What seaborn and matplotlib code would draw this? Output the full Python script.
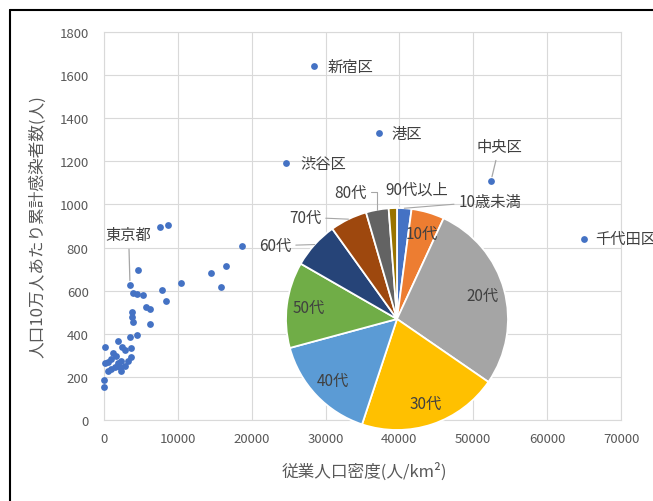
import matplotlib
matplotlib.use("Agg")
import matplotlib.pyplot as plt
from matplotlib.lines import Line2D
import numpy as np
import pandas as pd
import seaborn as sns

# 区市町村別の従業人口密度(人/km²)と人口10万人あたり累計感染者数(人)
density = [28430, 37230, 24640, 52400, 64950, 3520,
           18730, 16470, 14530, 15800, 10400, 8710, 7580, 4650, 7810,
           3970, 4510, 5320, 8460, 5690, 6230, 3750, 3750, 3880, 6230,
           4510, 3480, 1900, 100, 2440, 2800, 3700, 1220, 1670, 990, 540,
           100, 3700, 3250, 2340, 1900, 2800, 2130, 1450, 990, 540, 2340,
           0, 0]
cases = [1642, 1331, 1192, 1110, 840, 628,
         806, 714, 682, 618, 637, 906, 894, 695, 605,
         590, 584, 582, 553, 523, 516, 500, 478, 453, 445,
         394, 386, 368, 340, 340, 325, 334, 309, 298, 283, 268,
         263, 291, 275, 272, 263, 252, 244, 244, 237, 229, 229,
         186, 152]
labeled_names = ["新宿区", "港区", "渋谷区", "中央区", "千代田区", "東京都"]
names = labeled_names + [""] * (len(density) - len(labeled_names))

# 年代別の感染者構成比(%)
age_groups = ["10歳未満", "10代", "20代", "30代", "40代",
              "50代", "60代", "70代", "80代", "90代以上"]
age_share = [2.1, 4.8, 27.7, 20.5, 15.7, 12.5, 6.8, 5.4, 3.3, 1.2]

x_ticks = [0, 10000, 20000, 30000, 40000, 50000, 60000, 70000]
y_ticks = [0, 200, 400, 600, 800, 1000, 1200, 1400, 1600, 1800]

sns.set_style("white")
plt.rcParams["font.family"] = ["Noto Sans CJK JP", "DejaVu Sans"]

W, H = 653, 502
fig = plt.figure(figsize=(W / 100, H / 100), dpi=100)
ax = fig.add_axes([104 / W, 81 / H, 517 / W, 388 / H])

df = pd.DataFrame({"density": density, "cases": cases, "name": names})
sns.scatterplot(data=df, x="density", y="cases", ax=ax, color="#4472C4",
                s=24, linewidth=0, zorder=3, clip_on=False)

ax.set_xlim(x_ticks[0], x_ticks[-1])
ax.set_ylim(y_ticks[0], y_ticks[-1])
ax.set_xticks(x_ticks)
ax.set_yticks(y_ticks)
ax.grid(True, color="#D9D9D9", linewidth=0.8)
ax.set_axisbelow(True)
for sp in ax.spines.values():
    sp.set_color("#D9D9D9")
    sp.set_linewidth(0.8)
ax.tick_params(length=0, labelsize=9.5, labelcolor="#595959")
ax.tick_params(axis="y", pad=11)
ax.tick_params(axis="x", pad=9)

ax.set_xlabel("従業人口密度(人/km²)", fontsize=12, color="#595959")
ax.set_ylabel("人口10万人あたり累計感染者数(人)", fontsize=12, color="#595959")
ax.xaxis.set_label_coords(0.503, -0.108)
ax.yaxis.set_label_coords(-0.112, 0.5)

# 区名ラベル (offset in points)
label_offsets = {
    "新宿区": (10, 0, "left", None),
    "港区": (9, 0, "left", None),
    "渋谷区": (10, 0, "left", None),
    "千代田区": (8, 0, "left", None),
    "中央区": (6, 25, "center", True),
    "東京都": (-1, 36, "center", True),
}
for _, row in df[df["name"] != ""].iterrows():
    dx, dy, ha, leader = label_offsets[row["name"]]
    arrow = None
    if leader:
        arrow = dict(arrowstyle="-", color="#A6A6A6", lw=0.9,
                     shrinkA=2, shrinkB=3)
    ax.annotate(row["name"], xy=(row["density"], row["cases"]),
                xytext=(dx, dy), textcoords="offset points",
                ha=ha, va="center", fontsize=11, color="#404040",
                arrowprops=arrow, zorder=4)

# 年代別構成比の円グラフ
pie_colors = ["#4472C4", "#ED7D31", "#A5A5A5", "#FFC000", "#5B9BD5",
              "#70AD47", "#264478", "#9E480E", "#636363", "#997300"]
pax = fig.add_axes([286 / W, 71 / H, 222 / W, 222 / H])
wedges, _ = pax.pie(age_share, colors=pie_colors, startangle=90,
                    counterclock=False,
                    wedgeprops=dict(edgecolor="white", linewidth=1.3))
pax.set_xlim(-1, 1)
pax.set_ylim(-1, 1)
pax.set_aspect("equal")
pax.patch.set_visible(False)

outside_pos = {
    "10歳未満": (0.838, 1.060),
    "60代": (-1.099, 0.660),
    "70代": (-0.829, 0.916),
    "80代": (-0.423, 1.141),
    "90代以上": (0.177, 1.171),
}
for name, w in zip(age_groups, wedges):
    mid = np.deg2rad((w.theta1 + w.theta2) / 2)
    cx, cy = np.cos(mid), np.sin(mid)
    if name in outside_pos:
        arrow = None
        if name != "90代以上":
            cs = "angle,angleA=0,angleB=90,rad=0" if name == "80代" else "arc3"
            arrow = dict(arrowstyle="-", color="#A6A6A6", lw=0.8,
                         shrinkA=1, shrinkB=0, connectionstyle=cs)
        pax.annotate(name, xy=(cx, cy), xytext=outside_pos[name],
                     ha="center", va="center", fontsize=11, color="#404040",
                     arrowprops=arrow, annotation_clip=False)
    else:
        pax.text(0.8 * cx, 0.8 * cy, name, ha="center", va="center",
                 fontsize=11, color="#404040")

# 外枠
fig.add_artist(Line2D([10 / W, 1], [1 - 11 / H, 1 - 11 / H],
                      transform=fig.transFigure, color="black", lw=1.5))
fig.add_artist(Line2D([10 / W, 10 / W], [0, 1 - 11 / H],
                      transform=fig.transFigure, color="black", lw=1.5))

fig.savefig("out.png", dpi=100)
